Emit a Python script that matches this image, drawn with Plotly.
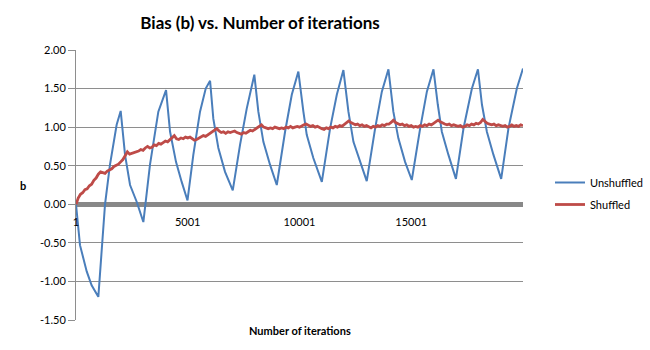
import plotly.graph_objects as go

# ---- data ----
unshuffled_iter = [1, 180, 480, 700, 1000, 1150, 1300, 1520, 1820, 2000,
                   2195, 2420, 2720, 3015, 3310, 3685, 4030,
                   4210, 4475, 4730, 4990, 5250, 5550, 5805, 6000,
                   6145, 6370, 6670, 7015, 7340, 7640, 7980,
                   8160, 8385, 8685, 8985, 9355, 9655, 9950,
                   10175, 10325, 10620, 11000, 11370, 11670, 11965,
                   12190, 12415, 12715, 13010, 13385, 13685, 13980,
                   14200, 14425, 14725, 15025, 15400, 15700, 15995,
                   16190, 16370, 16665, 17000, 17340, 17715, 17985,
                   18165, 18385, 18680, 19025, 19350, 19725, 20000]
unshuffled_b = [0.00, -0.53, -0.87, -1.05, -1.20, -0.61, 0.00, 0.51, 1.03, 1.21,
                0.64, 0.25, 0.03, -0.23, 0.51, 1.20, 1.48,
                0.94, 0.55, 0.29, 0.05, 0.64, 1.20, 1.50, 1.60,
                1.11, 0.73, 0.42, 0.18, 0.77, 1.24, 1.68,
                1.20, 0.81, 0.51, 0.25, 0.94, 1.42, 1.72,
                1.20, 0.90, 0.60, 0.29, 0.985, 1.42, 1.74,
                1.20, 0.81, 0.55, 0.30, 0.985, 1.46, 1.75,
                1.20, 0.855, 0.55, 0.315, 0.985, 1.46, 1.75,
                1.29, 0.94, 0.64, 0.33, 0.985, 1.50, 1.75,
                1.29, 0.94, 0.64, 0.33, 0.985, 1.50, 1.76]

# shuffled series sampled every 100 iterations
shuffled_iter = [1] + list(range(100, 20001, 100))
shuffled_b = [
    0.00, 0.08, 0.13, 0.15, 0.19, 0.20, 0.24, 0.26, 0.31, 0.34,
    0.39, 0.42, 0.41, 0.40, 0.43, 0.44, 0.46, 0.49, 0.50, 0.52,
    0.55, 0.58, 0.63, 0.68, 0.65, 0.66, 0.66, 0.68, 0.69, 0.71,
    0.70, 0.73, 0.75, 0.73, 0.74, 0.77, 0.76, 0.79, 0.78, 0.80,
    0.82, 0.81, 0.84, 0.87, 0.89, 0.85, 0.84, 0.86, 0.85, 0.87,
    0.86, 0.87, 0.85, 0.83, 0.84, 0.86, 0.87, 0.89, 0.88, 0.90,
    0.91, 0.93, 0.95, 0.98, 0.95, 0.93, 0.94, 0.92, 0.94, 0.93,
    0.94, 0.95, 0.93, 0.92, 0.91, 0.93, 0.92, 0.94, 0.96, 0.95,
    0.97, 0.98, 1.00, 1.03, 1.00, 0.99, 0.98, 0.99, 0.98, 1.00,
    0.99, 0.98, 0.99, 0.98, 1.00, 0.99, 1.01, 0.99, 1.00, 1.01,
    1.00, 1.02, 1.03, 1.04, 1.02, 1.01, 1.02, 1.00, 1.01, 0.99,
    0.98, 0.97, 0.99, 0.98, 1.00, 0.99, 1.01, 1.00, 1.02, 1.01,
    1.03, 1.05, 1.08, 1.06, 1.04, 1.03, 1.04, 1.02, 1.03, 1.01,
    1.02, 1.00, 0.99, 1.01, 1.00, 1.02, 1.01, 1.03, 1.02, 1.04,
    1.04, 1.06, 1.09, 1.06, 1.04, 1.03, 1.04, 1.02, 1.03, 1.01,
    1.02, 1.00, 1.01, 1.00, 1.02, 1.01, 1.03, 1.02, 1.04, 1.03,
    1.05, 1.07, 1.09, 1.07, 1.05, 1.04, 1.03, 1.04, 1.02, 1.03,
    1.02, 1.01, 1.02, 1.00, 1.01, 1.03, 1.02, 1.04, 1.03, 1.05,
    1.04, 1.06, 1.10, 1.07, 1.05, 1.04, 1.03, 1.04, 1.02, 1.03,
    1.02, 1.01, 1.02, 1.00, 1.01, 1.03, 1.01, 1.02, 1.01, 1.03,
    1.02]

x_tick_vals = [1, 5001, 10001, 15001]
x_tick_text = ["1", "5001", "10001", "15001"]
y_tick_vals = [-1.5, -1.0, -0.5, 0.0, 0.5, 1.0, 1.5, 2.0]
y_tick_text = ["-1.50", "-1.00", "-0.50", "0.00", "0.50", "1.00", "1.50", "2.00"]

FONT = "Lato"
W, H = 650, 350
L, R, T, B = 76, 127, 50, 30

fig = go.Figure()
fig.add_trace(go.Scatter(x=unshuffled_iter, y=unshuffled_b, mode="lines",
                         name="Unshuffled", legendgroup="a",
                         line=dict(color="#4A7EBB", width=2)))
fig.add_trace(go.Scatter(x=shuffled_iter, y=shuffled_b, mode="lines",
                         name="Shuffled", legendgroup="b",
                         line=dict(color="#BE4B48", width=2.8)))

ymin, ymax = -1.5, 2.0
zero_pos = (0 - ymin) / (ymax - ymin)

fig.update_layout(
    width=W, height=H,
    margin=dict(l=L, r=R, t=T, b=B, pad=0, autoexpand=False),
    paper_bgcolor="white", plot_bgcolor="white",
    font=dict(family=FONT, size=11, color="black"),
    title=dict(text="<b>Bias (b) vs. Number of iterations</b>",
               x=260 / W, xanchor="center", xref="container",
               y=1 - 23 / H, yanchor="middle", yref="container",
               font=dict(family=FONT, size=17, color="black")),
    showlegend=True,
    legend=dict(x=550 / W, xanchor="left", xref="container",
                y=1 - 168 / H, yanchor="top", yref="container",
                font=dict(family=FONT, size=11, color="black"),
                tracegroupgap=3, bgcolor="rgba(0,0,0,0)"),
    xaxis=dict(range=[1, 20001], tickmode="array", tickvals=x_tick_vals,
               ticktext=x_tick_text, showgrid=False, zeroline=False,
               showline=False, ticks="", anchor="free", position=zero_pos,
               ticklabelstandoff=10,
               tickfont=dict(family=FONT, size=11, color="black")),
    yaxis=dict(range=[ymin, ymax], tickmode="array", tickvals=y_tick_vals,
               ticktext=y_tick_text, showgrid=True, gridcolor="#8e8e8e", gridwidth=1,
               zeroline=True, zerolinecolor="#888888", zerolinewidth=5,
               showline=True, linecolor="#8e8e8e", linewidth=1,
               ticks="outside", ticklen=7, tickcolor="#8e8e8e",
               tickfont=dict(family=FONT, size=11, color="black")),
    annotations=[
        dict(text="<b>Number of iterations</b>", xref="paper", yref="paper",
             x=0.5, y=-10 / (H - T - B), xanchor="center", yanchor="middle",
             showarrow=False, font=dict(family=FONT, size=11, color="black")),
        dict(text="<b>b</b>", xref="paper", yref="paper",
             x=(23 - L) / (W - L - R), y=0.5, xanchor="center", yanchor="middle",
             showarrow=False, font=dict(family=FONT, size=11, color="black")),
    ],
)

fig.write_html("out.html")
